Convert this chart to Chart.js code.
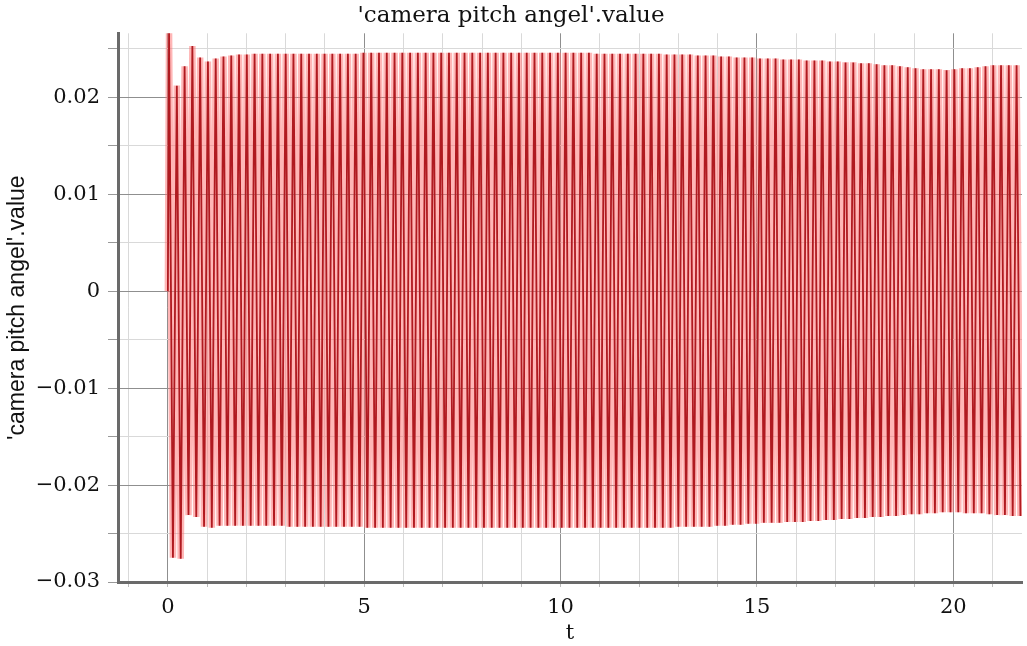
<!DOCTYPE html>
<html>
<head>
<meta charset="utf-8">
<title>camera pitch angel</title>
<script src="https://cdn.jsdelivr.net/npm/chart.js@4/dist/chart.umd.min.js"></script>
<style>
    body { margin: 0; background: #ffffff; }
    #wrap { width: 1027px; height: 646px; }
</style>
</head>
<body>
<div id="wrap"><canvas id="pitchChart" width="1027" height="646"></canvas></div>
<script>
// values: one peak and one trough per oscillation (~5 Hz)
const firstPeakTime = 0.03;
const period = 0.198;

const peakValues = [
    0.0267, 0.0212, 0.0232, 0.0253, 0.0241, 0.0237, 0.0240, 0.0242, 0.0243, 0.0244,
    0.0244, 0.0245, 0.0245, 0.0245, 0.0245, 0.0245, 0.0245, 0.0245, 0.0245, 0.0245,
    0.0245, 0.0245, 0.0245, 0.0245, 0.0245, 0.0246, 0.0246, 0.0246, 0.0246, 0.0246,
    0.0246, 0.0246, 0.0246, 0.0246, 0.0246, 0.0246, 0.0246, 0.0246, 0.0246, 0.0246,
    0.0246, 0.0246, 0.0246, 0.0246, 0.0246, 0.0246, 0.0246, 0.0246, 0.0246, 0.0246,
    0.0246, 0.0246, 0.0246, 0.0246, 0.0246, 0.0245, 0.0245, 0.0245, 0.0245, 0.0245,
    0.0245, 0.0245, 0.0245, 0.0245, 0.0244, 0.0244, 0.0244, 0.0244, 0.0243, 0.0243,
    0.0243, 0.0242, 0.0242, 0.0241, 0.0241, 0.0241, 0.0240, 0.0240, 0.0240, 0.0239,
    0.0239, 0.0239, 0.0238, 0.0238, 0.0238, 0.0237, 0.0237, 0.0236, 0.0236, 0.0235,
    0.0235, 0.0234, 0.0233, 0.0233, 0.0232, 0.0231, 0.0230, 0.0229, 0.0229, 0.0229,
    0.0228, 0.0229, 0.0230, 0.0230, 0.0231, 0.0232, 0.0233, 0.0233, 0.0233, 0.0233
];

const troughValues = [
    -0.0275, -0.0276, -0.0231, -0.0233, -0.0243, -0.0244, -0.0242, -0.0242, -0.0242, -0.0242,
    -0.0242, -0.0242, -0.0242, -0.0242, -0.0242, -0.0243, -0.0243, -0.0243, -0.0243, -0.0243,
    -0.0243, -0.0243, -0.0243, -0.0243, -0.0243, -0.0244, -0.0244, -0.0244, -0.0244, -0.0244,
    -0.0244, -0.0244, -0.0244, -0.0244, -0.0244, -0.0244, -0.0244, -0.0244, -0.0244, -0.0244,
    -0.0244, -0.0244, -0.0244, -0.0244, -0.0244, -0.0244, -0.0244, -0.0244, -0.0244, -0.0244,
    -0.0244, -0.0244, -0.0244, -0.0244, -0.0244, -0.0244, -0.0244, -0.0244, -0.0244, -0.0244,
    -0.0244, -0.0244, -0.0244, -0.0244, -0.0244, -0.0243, -0.0243, -0.0243, -0.0243, -0.0243,
    -0.0242, -0.0242, -0.0241, -0.0241, -0.0240, -0.0240, -0.0239, -0.0239, -0.0239, -0.0238,
    -0.0238, -0.0238, -0.0237, -0.0237, -0.0236, -0.0236, -0.0235, -0.0235, -0.0234, -0.0234,
    -0.0233, -0.0233, -0.0232, -0.0232, -0.0231, -0.0230, -0.0230, -0.0229, -0.0229, -0.0228,
    -0.0228, -0.0228, -0.0229, -0.0229, -0.0229, -0.0230, -0.0231, -0.0231, -0.0232, -0.0232
];

const xTickLabels = [0, 5, 10, 15, 20];
const yTickLabels = [-0.03, -0.02, -0.01, 0, 0.01, 0.02];

const chartTitle = "'camera pitch angel'.value";

// start at 0, then peak / trough pairs
function buildPoints() {
    const pts = [{ x: 0, y: 0 }];
    for (let i = 0; i < peakValues.length; i++) {
        const t = firstPeakTime + i * period;
        pts.push({ x: t, y: peakValues[i] });
        pts.push({ x: t + period / 2, y: troughValues[i] });
    }
    return pts;
}

function isMajorX(v) {
    return xTickLabels.includes(Math.round(v * 1000) / 1000);
}
function isMajorY(v) {
    return yTickLabels.includes(Math.round(v * 1000) / 1000);
}
function formatY(v) {
    const r = Math.round(v * 1000) / 1000;
    if (r === 0) return '0';
    return r.toFixed(2).replace('-', '\u2212');
}

const majorGrid = '#8f8f8f';
const minorGrid = '#d9d9d9';
const serif = 'DejaVu Serif';

const points = buildPoints();

const ctx = document.getElementById('pitchChart').getContext('2d');
window.myChart = new Chart(ctx, {
    type: 'line',
    data: {
        datasets: [
            {
                // the curve itself
                label: chartTitle,
                data: points,
                borderColor: 'rgb(176, 26, 32)',
                borderWidth: 1.8,
                fill: false,
                pointRadius: 0,
                tension: 0,
                order: 0
            },
            {
                // soft halo under the curve, gives the pink look of the dense trace
                label: 'halo',
                data: points,
                borderColor: 'rgba(255, 110, 110, 0.5)',
                borderWidth: 6.5,
                fill: false,
                pointRadius: 0,
                tension: 0,
                order: 1
            }
        ]
    },
    options: {
        responsive: false,
        animation: false,
        layout: { padding: { left: 0, right: 5, top: 0, bottom: 0 } },
        plugins: {
            legend: { display: false },
            tooltip: { enabled: false },
            title: {
                display: true,
                text: chartTitle,
                color: '#111',
                font: { family: serif, size: 23, weight: 'normal', lineHeight: 1.1 },
                padding: { top: 3, bottom: 5 }
            }
        },
        scales: {
            x: {
                type: 'linear',
                min: -1.27,
                max: 21.75,
                ticks: {
                    stepSize: 1,
                    includeBounds: false,
                    autoSkip: false,
                    maxRotation: 0,
                    padding: 8,
                    color: '#111',
                    font: { family: serif, size: 21 },
                    callback: function (v) { return isMajorX(v) ? String(Math.round(v)) : ''; }
                },
                grid: {
                    color: function (c) { return c.tick && isMajorX(c.tick.value) ? majorGrid : minorGrid; },
                    tickLength: 5,
                    tickColor: '#bbb'
                },
                border: { display: true, color: '#6a6a6a', width: 3 },
                title: {
                    display: true,
                    text: 't',
                    color: '#111',
                    font: { family: serif, size: 21 },
                    padding: { top: 0, bottom: 0 }
                },
                afterFit: function (scale) {
                    scale.height = 64;
                    scale.paddingLeft = 0;
                    scale.paddingRight = 0;
                }
            },
            y: {
                min: -0.03,
                max: 0.0266,
                ticks: {
                    stepSize: 0.005,
                    includeBounds: false,
                    autoSkip: false,
                    padding: 8,
                    color: '#111',
                    font: { family: serif, size: 21 },
                    callback: function (v) { return isMajorY(v) ? formatY(v) : ''; }
                },
                grid: {
                    color: function (c) { return c.tick && isMajorY(c.tick.value) ? majorGrid : minorGrid; },
                    tickLength: 10,
                    tickColor: '#999'
                },
                border: { display: true, color: '#6a6a6a', width: 3 },
                title: {
                    display: true,
                    text: chartTitle,
                    color: '#111',
                    font: { family: 'Liberation Sans', size: 23 },
                    padding: { top: 4, bottom: 0 }
                },
                afterFit: function (scale) {
                    scale.width = 118;
                    scale.paddingTop = 0;
                    scale.paddingBottom = 0;
                }
            }
        }
    }
});
</script>
</body>
</html>
